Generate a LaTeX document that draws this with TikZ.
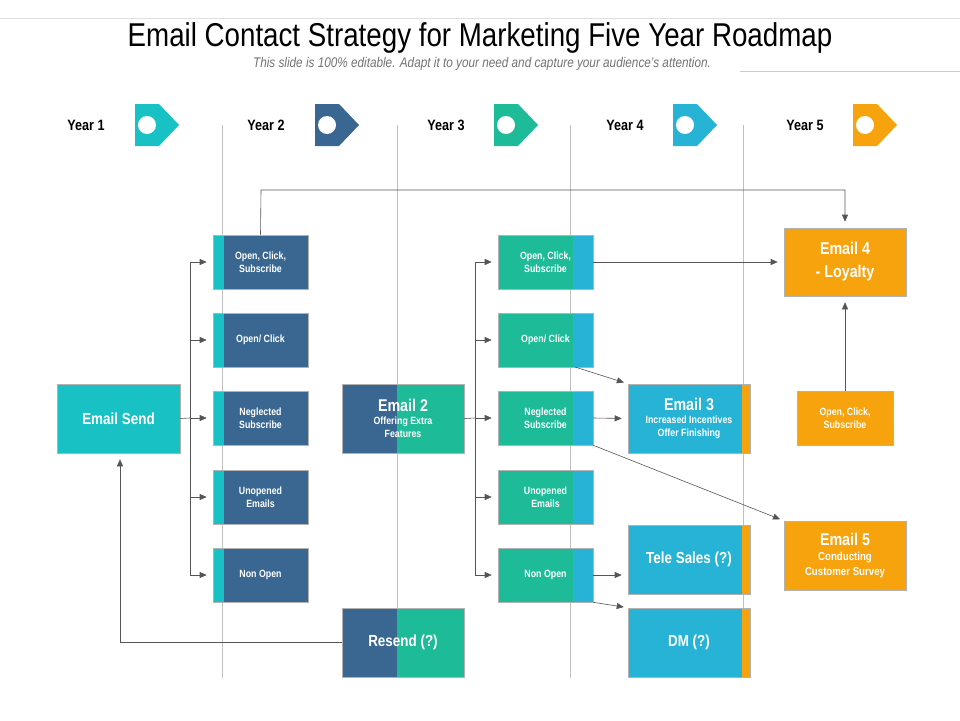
\documentclass[tikz,border=0pt]{standalone}
\usepackage{fontspec}
\setmainfont{Liberation Sans}[FakeStretch=0.84]
\usetikzlibrary{arrows.meta}
\definecolor{cteal}{HTML}{1DBB98}
\definecolor{cblue}{HTML}{3A6791}
\definecolor{ccyan}{HTML}{27B3D6}
\definecolor{caqua}{HTML}{18C2C4}
\definecolor{corange}{HTML}{F7A30E}
\definecolor{cline}{HTML}{555555}
\begin{document}
\begin{tikzpicture}[x=1pt,y=-1pt,
  box/.style={draw=gray!60,line width=0.6pt,text=white,font=\bfseries\fontsize{10.5}{13}\selectfont,align=center,inner sep=0pt},
  big/.style={font=\bfseries\fontsize{16}{19}\selectfont},
  conn/.style={draw=cline,line width=0.6pt},
  arr/.style={conn,-{Triangle[length=7pt,width=6pt]},shorten >=6pt},
  yr/.style={font=\bfseries\fontsize{15}{17}\selectfont}]
\useasboundingbox (0,0) rectangle (960,720);
\fill[white] (0,0) rectangle (960,720);
% title
\node[font=\fontsize{33}{37}\selectfont] (title) at (480,38) {Email Contact Strategy for Marketing Five Year Roadmap};
\node[font=\itshape\fontsize{14}{16}\selectfont,text=gray!90!black] (sub) at (482,64) {This slide is 100\% editable. Adapt it to your need and capture your audience's attention.};
\draw[gray!25] (0,18) -- (960,18);
\draw[gray!40] (740,71) -- (960,71);
% vertical lines
\foreach \x in {222,397,570,743} \draw[gray!50,line width=0.8pt] (\x,125) -- (\x,678);
% years
\foreach \n/\lx/\cx/\col in {1/86/135/caqua,2/266/315/cblue,3/446/494/cteal,4/625/673/ccyan,5/805/853/corange}{
  \node[yr] (y\n) at (\lx,125) {Year \n};
  \fill[\col] (\cx,104) -- (\cx+24,104) -- (\cx+44,125) -- (\cx+24,146) -- (\cx,146) -- cycle;
  \fill[white] (\cx+12,125) circle (9);
}
% column 2 boxes
\foreach \n/\y/\t in {a/262/{Open, Click,\\Subscribe},b/340/{Open/ Click},c/418/{Neglected\\Subscribe},d/497/{Unopened\\Emails},e/575/{Non Open}}{
  \fill[cblue] (213,\y-27) rectangle (308,\y+27);
  \fill[caqua] (213,\y-27) rectangle (224,\y+27);
  \node[box,minimum width=95pt,minimum height=54pt] (p\n) at (260.5,\y) {\t};
}
% column 4 boxes
\foreach \n/\y/\t in {a/262/{Open, Click,\\Subscribe},b/340/{Open/ Click},c/418/{Neglected\\Subscribe},d/497/{Unopened\\Emails},e/575/{Non Open}}{
  \fill[cteal] (498,\y-27) rectangle (573,\y+27);
  \fill[ccyan] (573,\y-27) rectangle (593,\y+27);
  \node[box,minimum width=95pt,minimum height=54pt] (q\n) at (545.5,\y) {\t};
}
% email send
\node[box,big,fill=caqua,minimum width=123pt,minimum height=69pt] (send) at (118.5,418.5) {Email Send};
% email 2 and resend
\fill[cblue] (342,384) rectangle (397,453);
\fill[cteal] (397,384) rectangle (464,453);
\node[box,minimum width=122pt,minimum height=69pt] (e2) at (403,418.5) {{\fontsize{17}{19}\selectfont Email 2}\\Offering Extra\\Features};
\fill[cblue] (342,608) rectangle (397,677);
\fill[cteal] (397,608) rectangle (464,677);
\node[box,big,minimum width=122pt,minimum height=69pt] (resend) at (403,642.5) {Resend (?)};
% cyan boxes with orange strip
\foreach \n/\y in {e3/418.5,tele/559.5,dm/642.5}{
  \fill[ccyan] (628,\y-34.5) rectangle (742,\y+34.5);
  \fill[corange] (742,\y-34.5) rectangle (750,\y+34.5);
}
\node[box,minimum width=122pt,minimum height=69pt] (e3) at (689,418.5) {{\fontsize{17}{19}\selectfont Email 3}\\Increased Incentives\\Offer Finishing};
\node[box,big,minimum width=122pt,minimum height=69pt] (tele) at (689,559.5) {Tele Sales (?)};
\node[box,big,minimum width=122pt,minimum height=69pt] (dm) at (689,642.5) {DM (?)};
% orange
\node[box,fill=corange,minimum width=122pt,minimum height=68pt,font=\bfseries\fontsize{17}{23}\selectfont] (e4) at (845,262) {Email 4\\- Loyalty};
\node[box,fill=corange,minimum width=96pt,minimum height=54pt] (oc) at (845,418) {Open, Click,\\Subscribe};
\node[box,fill=corange,minimum width=122pt,minimum height=69pt,font=\bfseries\fontsize{11.5}{15}\selectfont] (e5) at (845,555.5) {{\fontsize{17}{19}\selectfont Email 5}\\Conducting\\Customer Survey};
% connectors
\coordinate (t1) at (190,418);
\draw[conn] (send.east) -- (t1);
\draw[conn] (190,262) -- (190,575);
\foreach \n in {a,b,c,d,e} \draw[arr] (190,0 |- p\n.west) -- (p\n.west);
\coordinate (t2) at (475,418);
\draw[conn] (e2.east) -- (t2);
\draw[conn] (475,262) -- (475,575);
\foreach \n in {a,b,c,d,e} \draw[arr] (475,0 |- q\n.west) -- (q\n.west);
\draw[arr] (pa.north) -- (261,190) -- (845,190) -- (e4.north);
\draw[arr] (qa.east) -- (e4.west);
\draw[arr,shorten >=4pt] (575,367) -- (e3.north west);
\draw[arr] (qc.east) -- (e3.west);
\draw[arr,shorten >=4pt] (qc.south east) -- (e5.north west);
\draw[arr] (qe.east) -- (tele.west |- qe.east);
\draw[arr,shorten >=4pt] (qe.south east) -- (dm.north west);
\draw[arr] (oc.north) -- (e4.south);
\draw[arr] (resend.west) -- (120,642.5) -- (120,0 |- send.south);
\end{tikzpicture}
\end{document}
